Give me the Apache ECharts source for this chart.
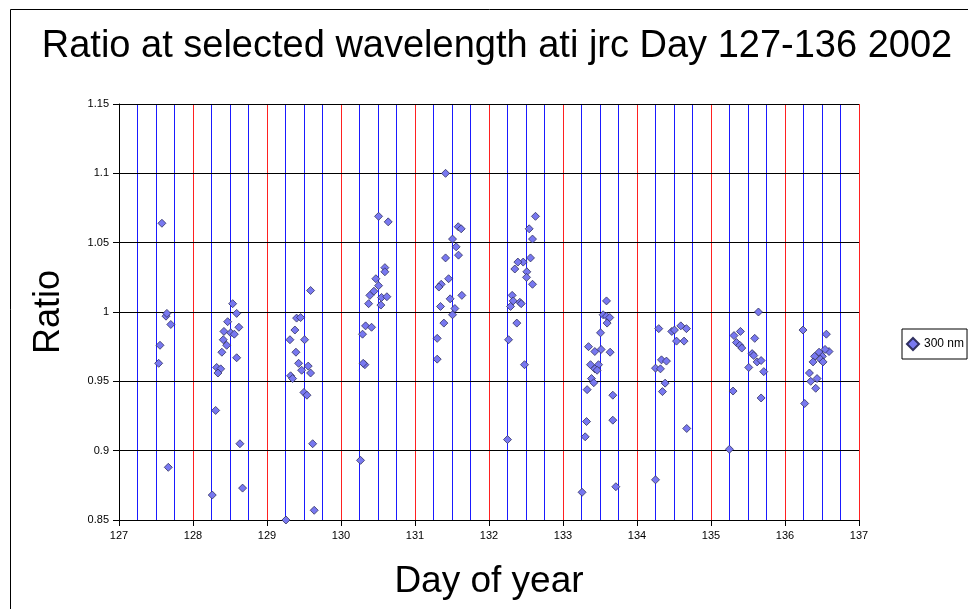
<!DOCTYPE html>
<html>
<head>
<meta charset="utf-8">
<script src="https://cdn.jsdelivr.net/npm/echarts@6/dist/echarts.min.js"></script>
<style>
html,body{margin:0;padding:0;background:#fff;}
#chart{width:968px;height:609px;}
</style>
</head>
<body>
<div id="chart"></div>
<script>
// Day of year (x) and ratio (y) for the 300 nm series
var dayOfYear = [
  127.536,127.554,127.58,127.635,127.647,127.70,127.666,
  128.536,128.59,128.468,128.62,128.418,128.509,128.558,128.409,128.455,128.39,128.59,128.32,128.374,128.337,128.306,128.634,128.26,128.67,
  129.589,129.40,129.454,129.377,129.31,129.508,129.391,129.427,129.557,129.468,129.589,129.319,129.346,129.499,129.54,129.617,129.638,129.256,
  130.508,130.638,130.593,130.593,130.471,130.508,130.445,130.39,130.548,130.62,130.373,130.539,130.332,130.413,130.291,130.323,130.30,130.264,
  131.413,131.584,131.624,131.507,131.556,131.588,131.413,131.454,131.354,131.323,131.633,131.475,131.345,131.539,131.507,131.39,131.30,131.30,
  132.628,132.543,132.588,132.561,132.462,132.39,132.349,132.511,132.507,132.588,132.313,132.327,132.417,132.435,132.291,132.376,132.264,132.48,132.25,
  133.588,133.542,133.588,133.632,133.596,133.507,133.345,133.43,133.515,133.637,133.372,133.48,133.43,133.461,133.385,133.416,133.326,133.673,133.318,133.673,133.30,133.714,133.258,
  134.294,134.47,134.506,134.592,134.668,134.534,134.636,134.331,134.398,134.25,134.317,134.38,134.344,134.672,134.25,
  135.641,135.311,135.398,135.591,135.344,135.389,135.416,135.556,135.578,135.623,135.677,135.51,135.713,135.298,135.677,135.249,
  136.243,136.559,136.595,136.541,136.46,136.505,136.40,136.478,136.379,136.514,136.33,136.433,136.348,136.415,136.266
];
var ratio300 = [
  0.963,0.976,1.064,0.997,0.999,0.991,0.888,
  1.006,0.999,0.993,0.989,0.986,0.985,0.984,0.980,0.976,0.971,0.967,0.960,0.959,0.956,0.929,0.905,0.868,0.873,
  1.0155,0.9956,0.996,0.987,0.980,0.980,0.971,0.963,0.961,0.958,0.956,0.954,0.952,0.942,0.940,0.905,0.857,0.850,
  1.069,1.065,1.032,1.029,1.024,1.019,1.015,1.012,1.0105,1.011,1.006,1.005,0.990,0.989,0.984,0.962,0.963,0.893,
  1.100,1.0615,1.060,1.0526,1.047,1.041,1.039,1.024,1.020,1.018,1.012,1.0095,1.004,1.0025,0.998,0.992,0.981,0.966,
  1.069,1.060,1.0526,1.039,1.036,1.036,1.031,1.029,1.025,1.020,1.012,1.008,1.007,1.006,1.004,0.992,0.980,0.962,0.908,
  1.008,0.998,0.997,0.996,0.992,0.985,0.975,0.9715,0.973,0.971,0.962,0.962,0.959,0.958,0.952,0.949,0.944,0.940,0.921,0.922,0.910,0.874,0.870,
  0.988,0.986,0.987,0.990,0.988,0.979,0.979,0.9655,0.9646,0.9595,0.959,0.9487,0.9426,0.916,0.879,
  1.000,0.983,0.986,0.981,0.978,0.976,0.974,0.970,0.9686,0.964,0.965,0.960,0.957,0.943,0.938,0.901,
  0.987,0.984,0.9715,0.973,0.971,0.968,0.968,0.966,0.964,0.964,0.956,0.952,0.950,0.945,0.934
];
var seriesName = '300 nm';
var titleText = 'Ratio at selected wavelength ati jrc Day 127-136 2002';
var xAxisTitle = 'Day of year';
var yAxisTitle = 'Ratio';

var points = dayOfYear.map(function (d, i) { return [d, ratio300[i]]; });
var FONT = 'Liberation Sans, Arial, sans-serif';

var chart = echarts.init(document.getElementById('chart'), null, {renderer: 'canvas'});
chart.setOption({
  animation: false,
  backgroundColor: '#fff',
  title: {
    text: titleText,
    left: 492, top: 23, textAlign: 'center',
    textStyle: {fontFamily: FONT, fontSize: 38, fontWeight: 'normal', color: '#000'}
  },
  legend: {
    left: 902, top: 329,
    orient: 'vertical',
    padding: [8, 3, 8, 4],
    borderColor: '#000', borderWidth: 1, borderRadius: 0,
    backgroundColor: '#fff',
    itemWidth: 12, itemHeight: 12,
    textStyle: {fontFamily: FONT, fontSize: 12, color: '#000'},
    data: [{name: seriesName, icon: 'diamond'}]
  },
  graphic: [{
    type: 'rect', z: -1, silent: true,
    shape: {x: 10.5, y: 9.5, width: 1000, height: 700},
    style: {fill: 'none', stroke: '#000', lineWidth: 1}
  }],
  grid: {left: 119, right: 109, top: 104, bottom: 89, containLabel: false},
  xAxis: [{
    // main axis: labels at whole days, red midnight gridlines
    type: 'value', min: 127, max: 137, interval: 1,
    name: xAxisTitle, nameLocation: 'middle', nameGap: 43,
    nameTextStyle: {fontFamily: FONT, fontSize: 37, color: '#000'},
    axisLine: {onZero: false, lineStyle: {color: '#000', width: 1}},
    axisTick: {show: true, length: 6, lineStyle: {color: '#000'}},
    axisLabel: {fontFamily: FONT, fontSize: 11, color: '#000', margin: 10},
    splitLine: {show: true, lineStyle: {color: '#ff2020', width: 1}},
    z: 3
  }, {
    // 6-hour gridlines in blue
    type: 'value', min: 127, max: 137, interval: 0.25, position: 'top',
    axisLine: {show: false}, axisTick: {show: false}, axisLabel: {show: false},
    splitLine: {show: true, lineStyle: {color: '#1a1aff', width: 1}},
    z: 1
  }],
  yAxis: {
    type: 'value', min: 0.85, max: 1.15, interval: 0.05,
    name: yAxisTitle, nameLocation: 'middle', nameGap: 52,
    nameTextStyle: {fontFamily: FONT, fontSize: 36, color: '#000'},
    axisLine: {onZero: false, lineStyle: {color: '#000', width: 1}},
    axisTick: {show: true, length: 6, lineStyle: {color: '#000'}},
    axisLabel: {fontFamily: FONT, fontSize: 11, color: '#000', margin: 10,
      formatter: function (v) { return String(parseFloat(v.toFixed(2))); }},
    splitLine: {show: true, lineStyle: {color: '#000', width: 1}},
    z: 4
  },
  series: [{
    name: seriesName,
    type: 'scatter',
    symbol: 'diamond',
    symbolSize: 8,
    clip: false,
    xAxisIndex: 0,
    z: 5,
    itemStyle: {color: '#7878f0', borderColor: '#303060', borderWidth: 0.8, opacity: 1},
    data: points
  }]
});
</script>
</body>
</html>
